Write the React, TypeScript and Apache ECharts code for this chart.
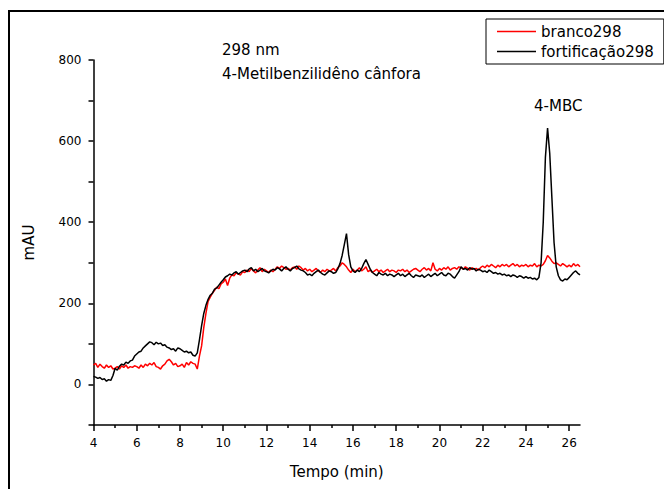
import React, { useEffect, useRef } from "react";
import * as echarts from "echarts";

// Sampling of the chromatograms (minutes)
const T_START = 4.0;
const T_STEP = 0.1;

// branco298 (red), mAU, 4.0 .. 26.5 min
const BRANCO: number[] = [
  48, 52, 42, 50, 44, 40, 48, 42, 46, 38,
  40, 44, 38, 46, 42, 48, 40, 44, 42, 46,
  44, 40, 48, 42, 50, 46, 52, 48, 54, 44,
  42, 38, 46, 50, 58, 62, 56, 48, 52, 44,
  46, 50, 42, 54, 48, 56, 52, 50, 38, 70,
  95, 140, 175, 205, 215, 225, 232, 240, 236, 248,
  252, 260, 244, 262, 270, 268, 275, 272, 270, 278,
  276, 282, 278, 286, 280, 275, 282, 288, 278, 284,
  280, 276, 282, 278, 284, 290, 286, 292, 288, 284,
  286, 282, 288, 290, 284, 292, 288, 282, 286, 280,
  284, 278, 282, 286, 280, 276, 282, 278, 284, 280,
  282, 286, 280, 288, 292, 300, 296, 290, 282, 276,
  284, 278, 282, 288, 280, 284, 290, 278, 282, 276,
  280, 284, 278, 282, 276, 280, 284, 278, 282, 280,
  276, 282, 280, 284, 278, 282, 276, 280, 284, 286,
  282, 278, 284, 288, 282, 286, 280, 300, 284, 280,
  286, 282, 288, 284, 290, 282, 286, 288, 284, 290,
  288, 284, 290, 286, 282, 288, 284, 286, 282, 288,
  292, 288, 294, 290, 296, 292, 288, 294, 290, 296,
  292, 296, 290, 294, 298, 292, 296, 290, 294, 292,
  296, 290, 294, 292, 298, 290, 294, 292, 296, 305,
  318, 312, 304, 298, 300, 296, 292, 298, 294, 290,
  294, 290, 298, 292, 296, 290,
];

// fortificação298 (black), mAU, 4.0 .. 26.5 min
const FORTIFICACAO: number[] = [
  20, 18, 15, 17, 12, 14, 8, 12, 10, 22,
  40, 35, 45, 50, 48, 55, 52, 58, 60, 70,
  75, 80, 82, 90, 95, 100, 105, 103, 98, 104,
  100, 102, 96, 98, 92, 90, 86, 88, 82, 90,
  88, 84, 80, 82, 78, 80, 72, 70, 78, 110,
  145, 175, 195, 210, 220, 225, 235, 238, 245, 252,
  258, 265, 268, 272, 270, 275, 278, 272, 276, 280,
  282, 278, 285, 288, 280, 284, 278, 282, 286, 280,
  278, 275, 280, 284, 282, 288, 285, 280, 286, 290,
  284, 280, 286, 288, 292, 285, 282, 280, 276, 270,
  272, 268, 274, 278, 282, 276, 272, 270, 275, 280,
  278, 274, 276, 285, 298, 318, 345, 372, 320, 290,
  280, 276, 282, 278, 286, 298, 308, 296, 284, 276,
  272, 268, 276, 272, 270, 274, 268, 272, 270, 266,
  270, 274, 268, 272, 266, 270, 274, 268, 264, 270,
  268, 266, 270, 264, 268, 272, 266, 270, 274, 268,
  272, 276, 270, 268, 274, 272, 266, 262, 270, 278,
  290, 284, 286, 282, 288, 284, 286, 280, 284, 282,
  278, 280, 276, 282, 278, 274, 276, 272, 274, 270,
  272, 268, 270, 266, 270, 268, 264, 268, 266, 262,
  266, 262, 264, 260, 262, 258, 264, 300, 400, 560,
  632, 570, 460, 350, 290, 268, 258, 255, 260, 258,
  264, 270, 276, 280, 274, 270,
];

const SERIES_NAMES = ["branco298", "fortificação298"];
const SERIES_COLORS = ["#ff0000", "#000000"];
const X_MAJOR = [4, 6, 8, 10, 12, 14, 16, 18, 20, 22, 24, 26];
const Y_MAJOR = [0, 200, 400, 600, 800];
const X_RANGE = [4, 26.5];
const X_INTERVAL = 2;
const Y_RANGE = [-100, 800];
const Y_INTERVAL = 100;

const ANNOT_WAVELENGTH = "298 nm";
const ANNOT_COMPOUND = "4-Metilbenzilidêno cânfora";
const ANNOT_PEAK = "4-MBC";

const FONT = "DejaVu Sans";

function toPairs(values: number[]): [number, number][] {
  return values.map((v, i) => [+(T_START + i * T_STEP).toFixed(2), v]);
}

export default function App() {
  const ref = useRef<HTMLDivElement | null>(null);

  useEffect(() => {
    if (!ref.current) return;
    const chart = echarts.init(ref.current, undefined, { renderer: "svg" });

    const mkLine = () => ({ show: true, onZero: false, lineStyle: { color: "#000", width: 1.5 } });
    const labelStyle = { color: "#000", fontFamily: FONT, fontSize: 12 };

    chart.setOption({
      animation: false,
      grid: { left: 93.5, top: 60, right: 84, bottom: 64, containLabel: false },
      legend: {
        orient: "vertical",
        left: 486,
        top: 19,
        padding: [5, 10, 5, 11],
        itemGap: 5,
        itemWidth: 39,
        itemHeight: 1.5,
        icon: "rect",
        borderColor: "#000",
        borderWidth: 1,
        borderRadius: 0,
        textStyle: { color: "#000", fontFamily: FONT, fontSize: 15 },
        data: SERIES_NAMES.map((name, i) => ({
          name,
          itemStyle: { color: SERIES_COLORS[i] },
        })),
      },
      xAxis: {
        type: "value",
        min: X_RANGE[0],
        max: X_RANGE[1],
        interval: X_INTERVAL,
        position: "bottom",
        axisLine: mkLine(),
        axisTick: {
          show: true,
          inside: false,
          length: 6,
          customValues: X_MAJOR,
          lineStyle: { color: "#000", width: 1.5 },
        },
        minorTick: {
          show: true,
          splitNumber: 2,
          length: 3,
          lineStyle: { color: "#000", width: 1.5 },
        },
        axisLabel: { ...labelStyle, margin: 12, customValues: X_MAJOR },
        splitLine: { show: false },
        minorSplitLine: { show: false },
        name: "Tempo (min)",
        nameLocation: "middle",
        nameGap: 39,
        nameTextStyle: { color: "#000", fontFamily: FONT, fontSize: 15 },
      },
      yAxis: {
        type: "value",
        min: Y_RANGE[0],
        max: Y_RANGE[1],
        interval: Y_INTERVAL,
        position: "left",
        axisLine: mkLine(),
        axisTick: {
          show: true,
          inside: false,
          length: 5,
          lineStyle: { color: "#000", width: 1.5 },
        },
        axisLabel: { ...labelStyle, margin: 12, customValues: Y_MAJOR },
        splitLine: { show: false },
        name: "mAU",
        nameLocation: "middle",
        nameGap: 57,
        nameRotate: 90,
        nameTextStyle: { color: "#000", fontFamily: FONT, fontSize: 15 },
      },
      series: [
        {
          name: SERIES_NAMES[0],
          type: "line",
          data: toPairs(BRANCO),
          showSymbol: false,
          symbol: "none",
          lineStyle: { color: SERIES_COLORS[0], width: 1.5 },
          itemStyle: { color: SERIES_COLORS[0] },
          z: 2,
        },
        {
          name: SERIES_NAMES[1],
          type: "line",
          data: toPairs(FORTIFICACAO),
          showSymbol: false,
          symbol: "none",
          lineStyle: { color: SERIES_COLORS[1], width: 1.5 },
          itemStyle: { color: SERIES_COLORS[1] },
          z: 3,
        },
      ],
      graphic: [
        {
          type: "text",
          left: 222,
          top: 42,
          style: { text: ANNOT_WAVELENGTH, fill: "#000", font: `15px "${FONT}"` },
        },
        {
          type: "text",
          left: 222,
          top: 66,
          style: { text: ANNOT_COMPOUND, fill: "#000", font: `15px "${FONT}"` },
        },
        {
          type: "text",
          left: 534,
          top: 98,
          style: { text: ANNOT_PEAK, fill: "#000", font: `15px "${FONT}"` },
        },
      ],
    });

    return () => {
      chart.dispose();
    };
  }, []);

  return (
    <div
      style={{
        position: "fixed",
        left: 0,
        top: 0,
        width: 664,
        height: 489,
        overflow: "hidden",
        background: "#fff",
      }}
    >
      <div
        style={{
          position: "absolute",
          left: 8,
          top: 10,
          width: 700,
          height: 600,
          borderLeft: "2px solid #000",
          borderTop: "2px solid #000",
          pointerEvents: "none",
        }}
      />
      <div
        ref={ref}
        style={{ position: "absolute", left: 0, top: 0, width: 664, height: 489 }}
      />
    </div>
  );
}
